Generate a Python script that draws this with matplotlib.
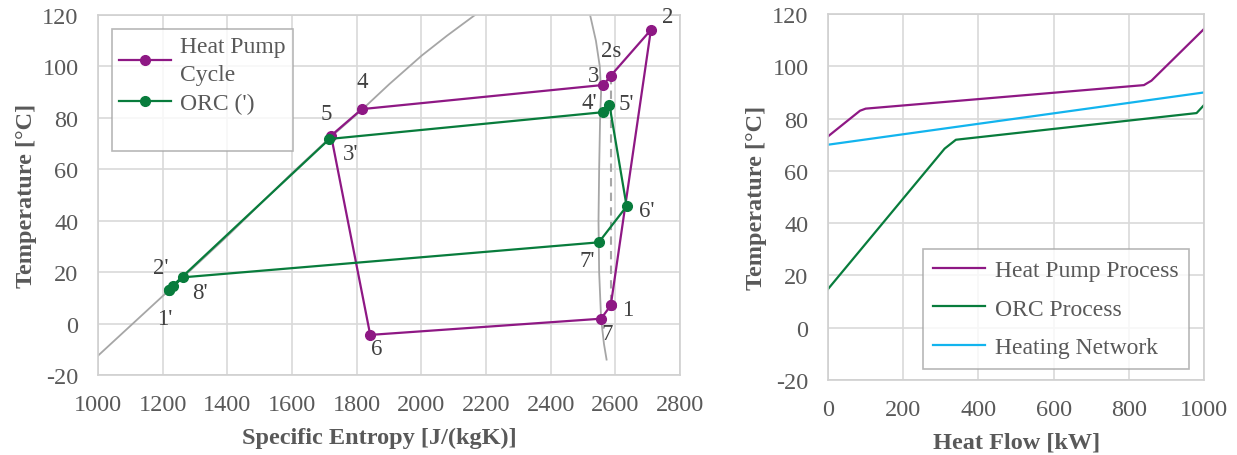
import numpy as np
import matplotlib.pyplot as plt

plt.rcParams['font.family'] = ['Liberation Serif', 'DejaVu Serif']
plt.rcParams['text.color'] = '#595959'
plt.rcParams['axes.labelcolor'] = '#595959'
plt.rcParams['xtick.color'] = '#595959'
plt.rcParams['ytick.color'] = '#595959'
plt.rcParams['axes.unicode_minus'] = False

# T-s diagram: heat pump cycle (points 1..7)
hp_labels = ['1', '2', '2s', '3', '4', '5', '6', '7']
hp_s = [2586, 2710, 2586, 2563, 1816, 1721, 1842, 2556]
hp_T = [7.1, 114.2, 96.4, 92.8, 83.4, 73.1, -4.4, 1.9]

# ORC cycle (primed points)
orc_labels = ["1'", "2'", "3'", "4'", "5'", "6'", "7'", "8'"]
orc_s = [1220, 1231, 1716, 2561, 2582, 2635, 2549, 1264]
orc_T = [13.2, 14.7, 71.8, 82.2, 85.0, 45.6, 31.6, 18.0]

# saturation curve (liquid side / vapour side)
liq_s = [1000, 1220, 1400, 1600, 1715, 1815, 1900, 2001, 2080, 2166]
liq_T = [-12.5, 13.0, 34.0, 58.5, 72.0, 83.0, 93.0, 104.2, 112.0, 120.0]
vap_s = [2522, 2540, 2552, 2556, 2553, 2550, 2548, 2550, 2556, 2565, 2573]
vap_T = [120, 110, 100, 90, 80, 60, 40, 20, 2, -8, -14]

# composite curves (heat flow vs temperature)
hp_Q = [0, 85, 100, 840, 860, 1000]
hp_TQ = [73.2, 83.0, 83.8, 92.8, 94.5, 114.3]
orc_Q = [0, 310, 340, 980, 1000]
orc_TQ = [14.8, 68.5, 71.9, 82.1, 85.2]
net_Q = [0, 1000]
net_TQ = [70.0, 90.0]

purple = '#8e1884'
green = '#087c3c'
blue = '#12b4ee'
grey = '#a6a6a6'

# label offsets in pixels (dx, dy)
hp_off = {'1': (17, -4), '2': (17, 13), '2s': (0, 25), '3': (-10, 9),
          '4': (0, 28), '5': (-5, 22), '6': (6, -14), '7': (6, -15)}
orc_off = {"1'": (-4, -29), "2'": (-12, 18), "3'": (21, -15), "4'": (-13, 10),
           "5'": (17, 2), "6'": (20, -4), "7'": (-12, -18), "8'": (17, -15)}

fig = plt.figure(figsize=(12.37, 4.56), dpi=100)
ax1 = fig.add_axes([0.0792, 0.1754, 0.4705, 0.7895])
ax2 = fig.add_axes([0.6694, 0.1645, 0.304, 0.8026])

def style(ax):
    ax.grid(True, color='#d9d9d9', linewidth=1.2)
    ax.set_axisbelow(True)
    for sp in ax.spines.values():
        sp.set_color('#d0d0d0')
        sp.set_linewidth(1.2)
    ax.tick_params(length=0, labelsize=17.5, pad=14)
    ax.set_ylim(-20, 120)
    ax.set_yticks(np.arange(-20, 121, 20))
    ax.set_ylabel('Temperature [°C]', fontsize=17.5, fontweight='bold', labelpad=4)

# left: T-s diagram
ax1.plot(liq_s, liq_T, color=grey, lw=1.3, zorder=1)
ax1.plot(vap_s, vap_T, color=grey, lw=1.3, zorder=1)
ax1.plot([hp_s[2], hp_s[0]], [hp_T[2], hp_T[0]], color=grey, lw=1.5,
         ls=(0, (4, 3)), zorder=1)

hp_path = [0, 1, 2, 3, 4, 5, 6, 7, 0]
orc_path = [0, 1, 2, 3, 4, 5, 6, 7, 0]
ax1.plot([hp_s[i] for i in hp_path], [hp_T[i] for i in hp_path], color=purple,
         lw=1.6, marker='o', ms=7, label='Heat Pump\nCycle', zorder=3)
ax1.plot([orc_s[i] for i in orc_path], [orc_T[i] for i in orc_path], color=green,
         lw=1.6, marker='o', ms=7, label="ORC (')", zorder=3)
ax1.plot([], [], ls='none', label=' ')

for lab, s, t in zip(hp_labels, hp_s, hp_T):
    ax1.annotate(lab, (s, t), xytext=hp_off[lab], textcoords='offset pixels',
                 ha='center', va='center', fontsize=16.5, color='#404040')
for lab, s, t in zip(orc_labels, orc_s, orc_T):
    ax1.annotate(lab, (s, t), xytext=orc_off[lab], textcoords='offset pixels',
                 ha='center', va='center', fontsize=16.5, color='#404040')

ax1.set_xlim(1000, 2800)
ax1.set_xticks(np.arange(1000, 2801, 200))
style(ax1)
ax1.set_xlabel('Specific Entropy [J/(kgK)]', fontsize=17.5, fontweight='bold',
               labelpad=8, x=0.483)
leg1 = ax1.legend(loc='upper left', bbox_to_anchor=(0.0235, 0.961), borderaxespad=0,
                  fontsize=17, frameon=True, fancybox=False, edgecolor='#a6a6a6',
                  handlelength=2.2, labelspacing=0.35, borderpad=0.3,
                  handletextpad=0.4)
leg1.get_frame().set_linewidth(1.2)
for t in leg1.get_texts():
    t.set_linespacing(1.4)

# right: heat flow diagram
ax2.plot(hp_Q, hp_TQ, color=purple, lw=1.6, label='Heat Pump Process')
ax2.plot(orc_Q, orc_TQ, color=green, lw=1.6, label='ORC Process')
ax2.plot(net_Q, net_TQ, color=blue, lw=1.6, label='Heating Network')
ax2.set_xlim(0, 1000)
ax2.set_xticks(np.arange(0, 1001, 200))
style(ax2)
ax2.set_xlabel('Heat Flow [kW]', fontsize=17.5, fontweight='bold', labelpad=8)
leg2 = ax2.legend(loc='upper left', bbox_to_anchor=(0.252, 0.358), borderaxespad=0,
                  fontsize=17, frameon=True, fancybox=False, edgecolor='#a6a6a6',
                  handlelength=2.2, labelspacing=0.72, borderpad=0.45,
                  handletextpad=0.4)
leg2.get_frame().set_linewidth(1.2)

fig.savefig('out.png', dpi=100)
